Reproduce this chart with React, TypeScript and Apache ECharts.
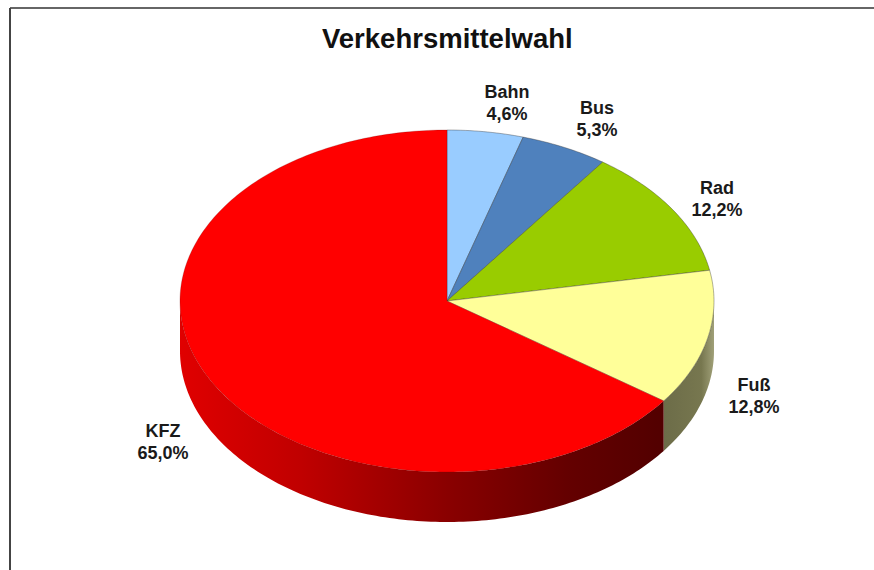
import React, { useEffect, useRef } from "react";
import * as echarts from "echarts";

const categories = ["Bahn", "Bus", "Rad", "Fuß", "KFZ"];
const shares = [4.6, 5.3, 12.2, 12.8, 65.0];
const shareLabels = ["4,6%", "5,3%", "12,2%", "12,8%", "65,0%"];
const topColors = ["#99ccff", "#4f81bd", "#99cc00", "#ffff99", "#ff0000"];
const labelAnchors = [
  [507, 103],
  [597, 119],
  [717, 199],
  [754, 396],
  [163, 442],
];

const CX = 447;
const CY = 301;
const RX = 267;
const RY = 171;
const DEPTH = 50;

const sideFill = (i: number) => {
  if (i === 4) {
    return new echarts.graphic.LinearGradient(
      0,
      0,
      1,
      0,
      [
        { offset: 0, color: "#e00000" },
        { offset: 0.25, color: "#c00000" },
        { offset: 0.55, color: "#8a0000" },
        { offset: 0.8, color: "#640000" },
        { offset: 1, color: "#520000" },
      ],
      false,
    );
  }
  return new echarts.graphic.LinearGradient(
    0,
    0,
    1,
    0,
    [
      { offset: 0, color: "#6c6c48" },
      { offset: 0.75, color: "#77774f" },
      { offset: 1, color: "#a0a078" },
    ],
    false,
  );
};

const point = (deg: number, dy = 0) => {
  const a = (deg * Math.PI) / 180;
  return [CX + RX * Math.sin(a), CY - RY * Math.cos(a) + dy];
};

const arcPoints = (from: number, to: number, dy = 0) => {
  const n = Math.max(2, Math.ceil((to - from) / 1));
  const pts: number[][] = [];
  for (let k = 0; k <= n; k++) pts.push(point(from + ((to - from) * k) / n, dy));
  return pts;
};

const total = shares.reduce((a, b) => a + b, 0);

const renderSlice = (params: any, api: any) => {
  const i = params.dataIndex;
  let before = 0;
  for (let k = 0; k < i; k++) before += shares[k];
  const start = (before / total) * 360;
  const end = start + (api.value(0) / total) * 360;
  const children: any[] = [];

  const sideStart = Math.max(start, 90);
  const sideEnd = Math.min(end, 270);
  if (sideEnd > sideStart) {
    const rim = arcPoints(sideStart, sideEnd);
    const lower = arcPoints(sideStart, sideEnd, DEPTH).reverse();
    children.push({
      type: "polygon",
      shape: { points: rim.concat(lower) },
      style: { fill: sideFill(i), stroke: "none" },
    });
  }

  const top = [[CX, CY]].concat(arcPoints(start, end));
  children.push({
    type: "polygon",
    shape: { points: top },
    style: {
      fill: topColors[i],
      stroke: i === 4 ? "rgba(120,0,0,0.35)" : "rgba(50,50,50,0.55)",
      lineWidth: 0.7,
    },
  });

  children.push({
    type: "text",
    style: {
      x: labelAnchors[i][0],
      y: labelAnchors[i][1],
      text: categories[i] + "\n" + shareLabels[i],
      fill: "#1a1a1a",
      font: 'bold 18px "Liberation Sans", Arial, sans-serif',
      lineHeight: 22,
      align: "center",
      verticalAlign: "middle",
    },
  });

  return { type: "group", children };
};

export default function App() {
  const ref = useRef<HTMLDivElement>(null);

  useEffect(() => {
    const chart = echarts.init(ref.current!, null, { renderer: "svg" });
    chart.setOption({
      animation: false,
      backgroundColor: "#ffffff",
      title: {
        text: "Verkehrsmittelwahl",
        left: 317,
        top: 19,
        textStyle: {
          fontFamily: '"Liberation Sans", Arial, sans-serif',
          fontWeight: "bold",
          fontSize: 27.5,
          color: "#111111",
        },
      },
      graphic: [
        {
          type: "line",
          shape: { x1: 10, y1: 8, x2: 874, y2: 8 },
          style: { stroke: "#666666", lineWidth: 2 },
        },
        {
          type: "line",
          shape: { x1: 10, y1: 8, x2: 10, y2: 570 },
          style: { stroke: "#444444", lineWidth: 2 },
        },
      ],
      series: [
        {
          type: "custom",
          coordinateSystem: "none",
          renderItem: renderSlice,
          data: shares.map((v) => [v]),
          silent: true,
        },
      ],
    });
    return () => chart.dispose();
  }, []);

  return (
    <div
      ref={ref}
      style={{ position: "fixed", left: 0, top: 0, width: 874, height: 570 }}
    />
  );
}
